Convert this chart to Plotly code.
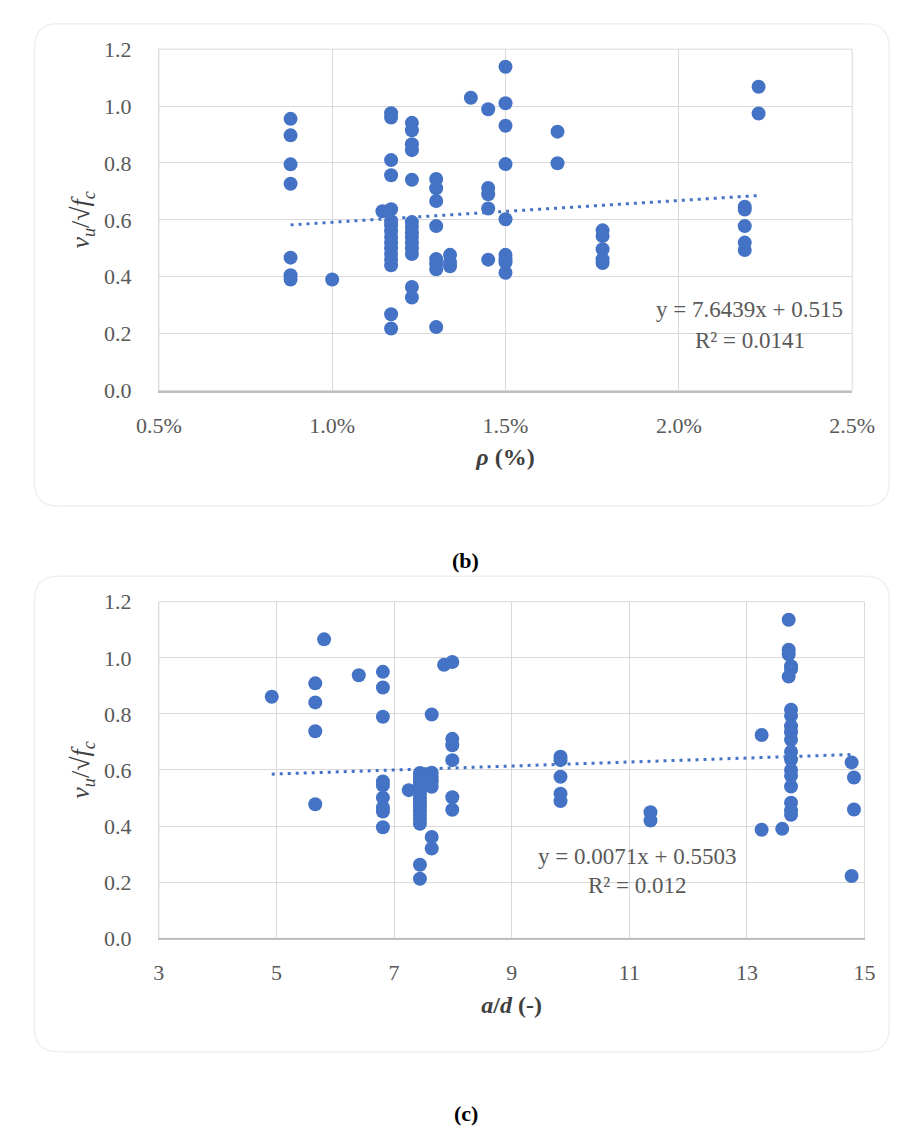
import plotly.graph_objects as go

# ---------------- Data: panel (b) rho vs vu/sqrt(fc) ----------------
rho_b = ([0.0088] * 7 + [0.0100] + [0.01145] + [0.0117] * 16 + [0.0123] * 14 +
         [0.0130] * 8 + [0.0134] * 3 + [0.0140] + [0.0145] * 5 + [0.0150] * 9 +
         [0.0165] * 2 + [0.0178] * 5 + [0.0219] * 5 + [0.0223] * 2)
vu_b = [0.955, 0.897, 0.795, 0.727, 0.467, 0.405, 0.390,
        0.390,
        0.630,
        0.975, 0.960, 0.810, 0.757, 0.637, 0.595, 0.580, 0.560, 0.540, 0.520, 0.500, 0.480, 0.460, 0.440, 0.268, 0.218,
        0.941, 0.915, 0.866, 0.845, 0.741, 0.592, 0.575, 0.555, 0.540, 0.520, 0.500, 0.480, 0.364, 0.327,
        0.744, 0.711, 0.666, 0.578, 0.462, 0.446, 0.426, 0.223,
        0.477, 0.452, 0.437,
        1.029,
        0.989, 0.712, 0.690, 0.640, 0.460,
        1.138, 1.010, 0.931, 0.796, 0.602, 0.477, 0.462, 0.451, 0.414,
        0.910, 0.799,
        0.563, 0.543, 0.497, 0.462, 0.448,
        0.646, 0.636, 0.578, 0.520, 0.494,
        1.068, 0.974]
trend_b_x = [0.0088, 0.0223]
slope_b, icpt_b = 7.6439, 0.515

# ---------------- Data: panel (c) a/d vs vu/sqrt(fc) ----------------
ad_c = ([4.92] + [5.66] * 4 + [5.81] + [6.40] + [6.81] * 9 + [7.25] + [7.44] * 15 +
        [7.54] * 3 + [7.64] * 7 + [7.85] + [7.99] * 6 + [9.83] * 5 + [11.36] * 2 +
        [13.25] * 2 + [13.60] + [13.71] * 4 + [13.75] * 15 + [14.78] * 2 + [14.82] * 2)
vu_c = [0.861,
        0.909, 0.841, 0.738, 0.478,
        1.066,
        0.938,
        0.950, 0.894, 0.790, 0.559, 0.545, 0.501, 0.466, 0.452, 0.396,
        0.528,
        0.589, 0.575, 0.560, 0.545, 0.530, 0.515, 0.500, 0.485, 0.470, 0.455, 0.440, 0.425, 0.408, 0.262, 0.212,
        0.585, 0.565, 0.550,
        0.798, 0.590, 0.575, 0.560, 0.540, 0.361, 0.320,
        0.975,
        0.985, 0.711, 0.688, 0.635, 0.503, 0.458,
        0.647, 0.635, 0.576, 0.515, 0.489,
        0.449, 0.420,
        0.725, 0.387,
        0.390,
        1.136, 1.029, 1.013, 0.933,
        0.970, 0.960, 0.815, 0.793, 0.756, 0.735, 0.708, 0.665, 0.638, 0.600, 0.579, 0.541, 0.483, 0.456, 0.440,
        0.627, 0.222,
        0.573, 0.459]
trend_c_x = [4.92, 14.82]
slope_c, icpt_c = 0.0071, 0.5503

y_ticks = [0.0, 0.2, 0.4, 0.6, 0.8, 1.0, 1.2]

BLUE = "#4472C4"
GRID = "#d9d9d9"
TXT = "#595959"
FONT = "Liberation Serif"

W, H = 917, 1139
def px_x(p):
    return p / W
def px_y(p):
    return 1 - p / H

fig = go.Figure()

fig.add_trace(go.Scatter(x=rho_b, y=vu_b, mode="markers", xaxis="x", yaxis="y",
                         marker=dict(color=BLUE, size=14), showlegend=False))
fig.add_trace(go.Scatter(x=trend_b_x, y=[slope_b * v + icpt_b for v in trend_b_x], mode="lines",
                         xaxis="x", yaxis="y",
                         line=dict(color=BLUE, width=3, dash="3px,5px"), showlegend=False))
fig.add_trace(go.Scatter(x=ad_c, y=vu_c, mode="markers", xaxis="x2", yaxis="y2",
                         marker=dict(color=BLUE, size=14), showlegend=False))
fig.add_trace(go.Scatter(x=trend_c_x, y=[slope_c * v + icpt_c for v in trend_c_x], mode="lines",
                         xaxis="x2", yaxis="y2",
                         line=dict(color=BLUE, width=3, dash="3px,5px"), showlegend=False))

tickfont = dict(family=FONT, size=22, color=TXT)
common_x = dict(showgrid=True, gridcolor=GRID, gridwidth=1, zeroline=False,
                showline=True, linecolor="#bfbfbf", linewidth=1.5, mirror=False,
                ticks="", tickfont=tickfont, ticklabelstandoff=14)
common_y = dict(showgrid=True, gridcolor=GRID, gridwidth=1, zeroline=False,
                showline=True, linecolor=GRID, linewidth=1,
                ticks="", tickfont=tickfont, ticklabelstandoff=22,
                range=[0, 1.2], tickvals=y_ticks, tickformat=".1f")

ytitle = "<i>v<sub>u</sub></i>/√<i>f<sub>c</sub></i>"
ytitle_font = dict(family=FONT, size=26, color="#404040")
xtitle_font = dict(family=FONT, size=24, color="#404040")

fig.update_layout(
    width=W, height=H,
    margin=dict(l=0, r=0, t=0, b=0),
    paper_bgcolor="white", plot_bgcolor="white",
    xaxis=dict(domain=[px_x(143), px_x(873)], anchor="y", range=[0.005, 0.025],
               dtick=0.005, tick0=0.005, tickformat=".1%",
               title=dict(text="<b><i>ρ</i> (%)</b>", font=xtitle_font, standoff=12), **common_x),
    yaxis=dict(domain=[px_y(387), px_y(38)], anchor="x",
               title=dict(text=ytitle, font=ytitle_font, standoff=6), **common_y),
    xaxis2=dict(domain=[px_x(143), px_x(886)], anchor="y2", range=[3, 15],
                dtick=2, tick0=3,
                title=dict(text="<b><i>a</i>/<i>d</i> (-)</b>", font=xtitle_font, standoff=12), **common_x),
    yaxis2=dict(domain=[px_y(947), px_y(603)], anchor="x2",
                title=dict(text=ytitle, font=ytitle_font, standoff=6), **common_y),
)

ann = [
    dict(x=765, y=304, text="y = 7.6439x + 0.515"),
    dict(x=765, y=336, text="R² = 0.0141"),
    dict(x=646, y=863, text="y = 0.0071x + 0.5503"),
    dict(x=646, y=893, text="R² = 0.012"),
]
annotations = []
for a in ann:
    annotations.append(dict(x=px_x(a["x"]), y=px_y(a["y"]), xref="paper", yref="paper",
                            text=a["text"], showarrow=False, xanchor="center", yanchor="middle",
                            font=dict(family=FONT, size=23, color=TXT)))
annotations.append(dict(x=px_x(466), y=px_y(561), xref="paper", yref="paper",
                        text="<b>(b)</b>", showarrow=False, xanchor="center", yanchor="middle",
                        font=dict(family=FONT, size=22, color="black")))
annotations.append(dict(x=px_x(466), y=px_y(1126), xref="paper", yref="paper",
                        text="<b>(c)</b>", showarrow=False, xanchor="center", yanchor="middle",
                        font=dict(family=FONT, size=22, color="black")))
fig.update_layout(annotations=annotations)

def card(x0, y0, x1, y1, r=25):
    X0, X1 = px_x(x0), px_x(x1)
    Y0, Y1 = px_y(y0), px_y(y1)
    rx, ry = r / W, r / H
    return (f"M {X0+rx},{Y0} L {X1-rx},{Y0} Q {X1},{Y0} {X1},{Y0-ry} "
            f"L {X1},{Y1+ry} Q {X1},{Y1} {X1-rx},{Y1} L {X0+rx},{Y1} "
            f"Q {X0},{Y1} {X0},{Y1+ry} L {X0},{Y0-ry} Q {X0},{Y0} {X0+rx},{Y0} Z")

shapes = [
    dict(type="path", path=card(12, 12, 912, 505), xref="paper", yref="paper",
         line=dict(color="#f0f0f0", width=1.5), layer="below"),
    dict(type="path", path=card(12, 577, 912, 1063), xref="paper", yref="paper",
         line=dict(color="#f0f0f0", width=1.5), layer="below"),
    dict(type="rect", xref="x domain", yref="y domain", x0=0, x1=1, y0=0, y1=1,
         line=dict(color=GRID, width=1), layer="below"),
    dict(type="rect", xref="x2 domain", yref="y2 domain", x0=0, x1=1, y0=0, y1=1,
         line=dict(color=GRID, width=1), layer="below"),
]
fig.update_layout(shapes=shapes)

fig.write_html("out.html")
